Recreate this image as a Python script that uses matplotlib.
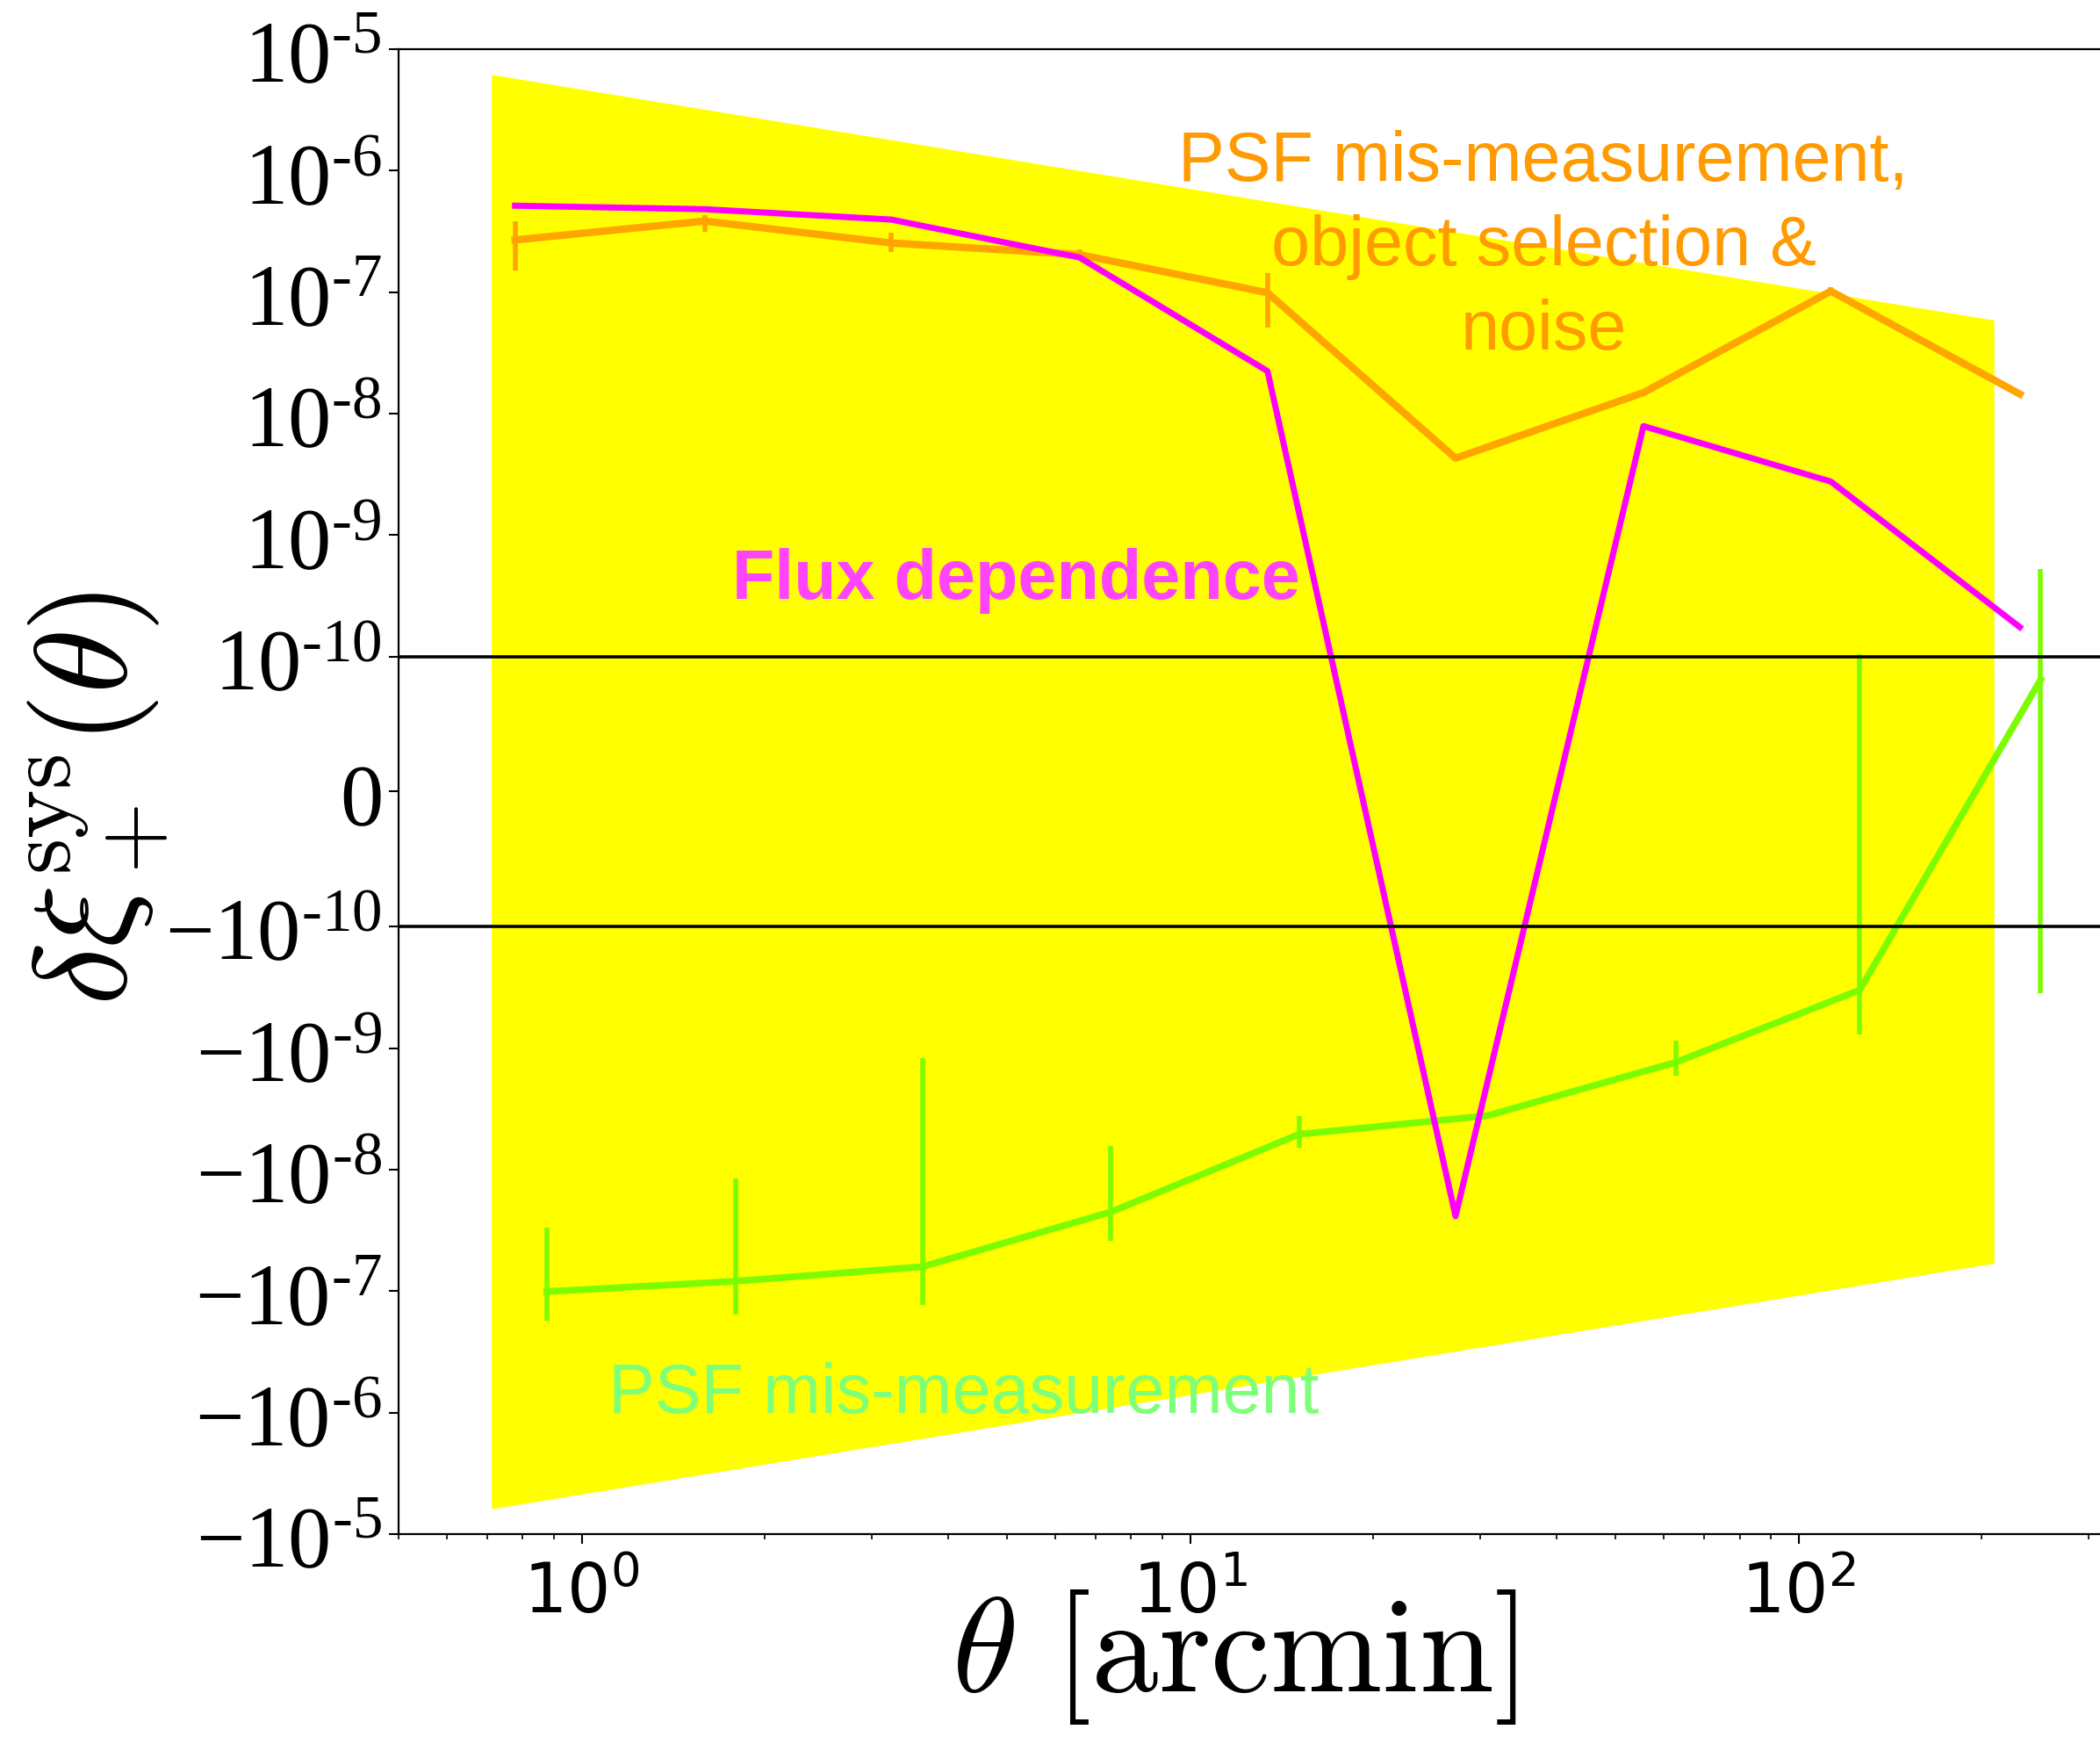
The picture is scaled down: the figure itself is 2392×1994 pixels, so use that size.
import matplotlib
matplotlib.use("Agg")
import matplotlib.pyplot as plt
from matplotlib.ticker import LogLocator, NullFormatter, NullLocator, FixedLocator, FixedFormatter

plt.rcParams['mathtext.fontset'] = 'cm'
plt.rcParams['mathtext.rm'] = 'Liberation Serif'
plt.rcParams['mathtext.it'] = 'Liberation Serif:italic'
plt.rcParams['mathtext.bf'] = 'Liberation Serif:bold'

# ---------------- data ----------------
theta_a = [0.777, 1.592, 3.227, 6.58, 13.4, 27.3, 55.6, 113.0, 231.0]
orange_y = [2.69e-7, 3.85e-7, 2.54e-7, 2.04e-7, 9.9e-8, 4.3e-9, 1.49e-8, 1.02e-7, 1.45e-8]
orange_lo = [1.52e-7, 3.14e-7, 2.14e-7, 1.85e-7, 5.1e-8, 4.3e-9, 1.49e-8, 0.95e-7, 1.45e-8]
orange_hi = [3.85e-7, 4.30e-7, 3.09e-7, 2.25e-7, 1.44e-7, 4.3e-9, 1.49e-8, 1.10e-7, 1.45e-8]

magenta_y = [5.15e-7, 4.82e-7, 3.96e-7, 1.93e-7, 2.24e-8, -2.42e-8, 7.9e-9, 2.76e-9, 1.75e-10]

theta_b = [0.876, 1.789, 3.63, 7.41, 15.1, 30.8, 62.8, 126.0, 250.0]
green_y = [-1.01e-7, -8.3e-8, -6.3e-8, -2.23e-8, -5.12e-9, -3.6e-9, -1.31e-9, -3.33e-10, 8.3e-11]
green_lo = [-1.75e-7, -1.55e-7, -1.29e-7, -3.87e-8, -6.6e-9, -3.6e-9, -1.69e-9, -7.76e-10, -3.51e-10]
green_hi = [-2.99e-8, -1.19e-8, -1.21e-9, -6.4e-9, -3.61e-9, -3.6e-9, -8.7e-10, 1.04e-10, 5.29e-10]

band_x = [0.710, 209.5]
band_upper = [6.2e-6, 5.9e-8]
band_lower = [-6.2e-6, -5.9e-8]

ytick_vals = [-1e-5, -1e-6, -1e-7, -1e-8, -1e-9, -1e-10, 0, 1e-10, 1e-9, 1e-8, 1e-7, 1e-6, 1e-5]
HY = '\u2010'
ytick_labels = ['$-10^{' + HY + '5}$', '$-10^{' + HY + '6}$',
                '$-10^{' + HY + '7}$', '$-10^{' + HY + '8}$',
                '$-10^{' + HY + '9}$', '$-10^{' + HY + '10}$',
                '$0$',
                '$10^{' + HY + '10}$', '$10^{' + HY + '9}$', '$10^{' + HY + '8}$',
                '$10^{' + HY + '7}$', '$10^{' + HY + '6}$', '$10^{' + HY + '5}$']
hline_vals = [1e-10, -1e-10]

label_orange = ["PSF mis-measurement,", "object selection &", "noise"]
label_magenta = "Flux dependence"
label_green = "PSF mis-measurement"

# ---------------- figure ----------------
fig = plt.figure(figsize=(23.92, 19.94), dpi=100)
ax = fig.add_axes([0.1898, 0.1239, 0.8411, 0.848])

ax.set_xscale('log')
ax.set_yscale('symlog', linthresh=1e-10, linscale=1)
ax.set_xlim(0.5, 400)
ax.set_ylim(-1e-5, 1e-5)

ax.fill_between(band_x, band_lower, band_upper, color='#FFFF00', linewidth=0, zorder=1)

col_orange = '#FFA500'
col_mag = '#FF00FF'
col_green = '#7CFC00'

ax.errorbar(theta_a, orange_y,
            yerr=[[y - lo for y, lo in zip(orange_y, orange_lo)],
                  [hi - y for y, hi in zip(orange_y, orange_hi)]],
            color=col_orange, lw=6.0, elinewidth=4.0, capsize=0, zorder=3)
ax.plot(theta_a, magenta_y, color=col_mag, lw=5.0, zorder=4)
ax.errorbar(theta_b, green_y,
            yerr=[[y - lo for y, lo in zip(green_y, green_lo)],
                  [hi - y for y, hi in zip(green_y, green_hi)]],
            color=col_green, lw=5.5, elinewidth=4.0, capsize=0, zorder=3)

for hv in hline_vals:
    ax.axhline(hv, color='black', lw=2.6, zorder=5)

# ticks
ax.yaxis.set_major_locator(FixedLocator(ytick_vals))
ax.yaxis.set_major_formatter(FixedFormatter(ytick_labels))
ax.yaxis.set_minor_locator(NullLocator())
ax.xaxis.set_major_locator(LogLocator(base=10))
ax.xaxis.set_minor_locator(LogLocator(base=10, subs=[2, 3, 4, 5, 6, 7, 8, 9]))
ax.xaxis.set_minor_formatter(NullFormatter())
ax.tick_params(axis='both', which='major', direction='out', length=8, width=1.5, pad=8,
               top=False, right=False)
ax.tick_params(axis='x', which='minor', direction='out', length=4, width=1.2, top=False)
ax.tick_params(axis='x', which='major', labelsize=56, pad=14)
ax.tick_params(axis='y', which='major', labelsize=71, pad=6)
for t in ax.get_yticklabels():
    t.set_math_fontfamily('custom')
for s in ax.spines.values():
    s.set_linewidth(1.6)

ax.set_xlabel(r'$\theta\ [\mathrm{arcmin}]$', fontsize=110)
ax.xaxis.set_label_coords(0.473, -0.036)
ax.set_ylabel(r'$\delta\xi_+^{\rm sys}(\theta)$', fontsize=108)
ax.yaxis.set_label_coords(-0.129, 0.4956)

# annotations (figure pixel fractions)
W, H = 2392.0, 1994.0
for txt, yb in zip(label_orange, [206, 302, 398]):
    fig.text(1758 / W, 1 - yb / H, txt, ha='center', va='baseline', fontsize=57,
             family='Liberation Sans', color='#FF9A00', zorder=10)
fig.text(1157 / W, 1 - 682 / H, label_magenta, ha='center', va='baseline', fontsize=57,
         family='Liberation Sans', fontweight='bold', color='#FF44FF', zorder=10)
fig.text(1098 / W, 1 - 1609 / H, label_green, ha='center', va='baseline', fontsize=57,
         family='Liberation Sans', color='#7DFF7A', zorder=10)

fig.savefig('out.png', dpi=100)
